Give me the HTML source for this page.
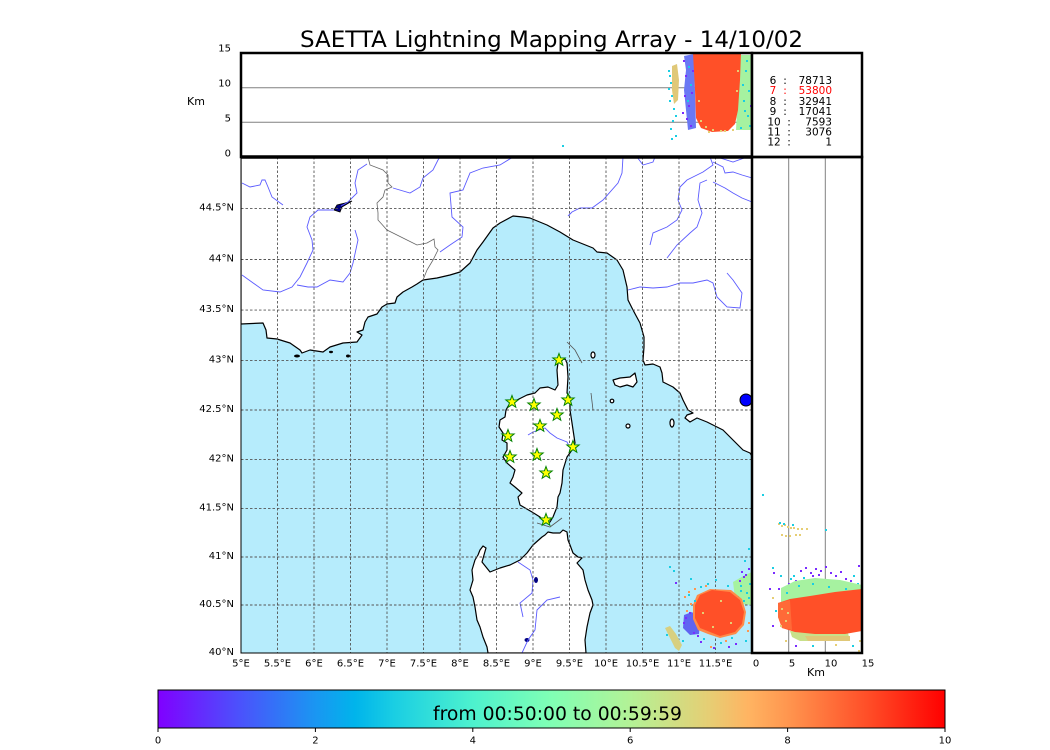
<!DOCTYPE html>
<html><head><meta charset="utf-8"><style>
html,body{margin:0;padding:0;background:#fff;}
svg{display:block;}
text{font-family:"DejaVu Sans","Liberation Sans",sans-serif;fill:#000;}
</style></head><body>
<svg width="1050" height="750" viewBox="0 0 1050 750" xmlns="http://www.w3.org/2000/svg">
<defs>
<clipPath id="cm"><rect x="241" y="157" width="511" height="496"/></clipPath>
<clipPath id="ct"><rect x="241" y="53" width="511" height="104"/></clipPath>
<clipPath id="cr"><rect x="752" y="157" width="110" height="496"/></clipPath>
<path id="star" d="M0,-6.5 L1.59,-2.18 L6.18,-2.01 L2.57,0.83 L3.82,5.26 L0,2.7 L-3.82,5.26 L-2.57,0.83 L-6.18,-2.01 L-1.59,-2.18 Z" fill="#ffff00" stroke="#008000" stroke-width="1"/>
<linearGradient id="rb" x1="0" x2="1" y1="0" y2="0">
<stop offset="0" stop-color="#8000ff"/><stop offset="0.1" stop-color="#4d4ffc"/><stop offset="0.2" stop-color="#1a96f2"/><stop offset="0.25" stop-color="#00b4eb"/><stop offset="0.3" stop-color="#1acee3"/><stop offset="0.4" stop-color="#4df2ce"/><stop offset="0.5" stop-color="#80ffb4"/><stop offset="0.6" stop-color="#b3f296"/><stop offset="0.7" stop-color="#e6ce74"/><stop offset="0.75" stop-color="#ffb462"/><stop offset="0.8" stop-color="#ff964f"/><stop offset="0.9" stop-color="#ff4f28"/><stop offset="1" stop-color="#ff0000"/>
</linearGradient>
</defs>

<!-- Title -->
<text x="551.5" y="47" font-size="22.5" text-anchor="middle" textLength="503" lengthAdjust="spacingAndGlyphs">SAETTA Lightning Mapping Array - 14/10/02</text>

<!-- ===== MAP ===== -->
<g clip-path="url(#cm)">
<rect x="241" y="157" width="511" height="496" fill="#b6ecfc"/>
<g fill="#fff" stroke="#000" stroke-width="1.2" stroke-linejoin="round">
<path d="M241,157 L752,157 L752,456 L750,453 L743,450 L733,440 L723,430 L707,422 L697,418 L690,422 L685,418 L687,415 L693,413 L688,410 L683,400 L680,393 L673,387 L663,382 L662,373 L660,367 L653,364 L645,365 L643,360 L644,347 L644,337 L640,323 L633,310 L628,300 L627,287 L623,270 L617,260 L607,253 L597,252 L593,248 L573,240 L560,232 L547,225 L530,218 L523,217 L513,216 L500,223 L493,228 L483,242 L477,250 L470,263 L460,272 L450,275 L437,278 L423,280 L417,284 L412,287 L403,292 L397,297 L395,303 L387,304 L382,307 L377,314 L368,317 L365,322 L363,330 L357,332 L362,335 L357,342 L343,343 L330,347 L323,352 L310,350 L302,353 L300,350 L290,343 L277,339 L267,338 L266,330 L263,323 L241,324 Z"/>
<path d="M559,360 L565,359 L567,363 L568,377 L567,393 L570,397 L570,410 L572,423 L575,443 L572,450 L567,457 L563,470 L562,483 L560,493 L558,497 L557,507 L553,517 L550,522 L545,523 L540,517 L532,512 L520,505 L518,497 L522,493 L515,487 L510,483 L513,477 L515,470 L507,463 L503,457 L507,450 L507,443 L502,440 L503,433 L499,427 L500,420 L505,417 L506,410 L510,403 L517,400 L527,395 L535,393 L540,388 L548,387 L555,390 L558,385 L557,370 L558,363 Z"/>
<path d="M545,535 L548,532 L553,533 L560,533 L563,530 L567,532 L568,540 L570,545 L573,553 L578,557 L582,558 L577,563 L583,570 L585,580 L588,590 L592,600 L593,605 L590,613 L587,627 L585,640 L586,653 L488,653 L487,647 L483,637 L480,627 L477,620 L475,607 L473,597 L470,590 L473,580 L472,570 L475,560 L478,555 L480,550 L483,546 L486,548 L484,555 L482,562 L490,572 L500,568 L510,565 L520,560 L527,553 L533,545 L542,537 Z"/>
<path d="M613,380 L620,378 L630,377 L635,373 L637,382 L633,387 L627,385 L620,387 L615,385 Z"/>
<ellipse cx="593" cy="355" rx="2" ry="3"/>
<ellipse cx="628" cy="426" rx="2" ry="2"/>
<ellipse cx="612" cy="401" rx="1.8" ry="1.8"/>
<ellipse cx="672" cy="423" rx="2" ry="4"/>
</g>
<!-- lakes -->
<path d="M334,210 L337,205 L345,203 L352,201 L342,207 L340,212 Z" fill="#000080" stroke="#000" stroke-width="0.8"/>
<circle cx="746" cy="400" r="6" fill="#0000ff" stroke="#000" stroke-width="1"/>
<ellipse cx="536" cy="580" rx="2" ry="3" fill="#000080"/>
<ellipse cx="527" cy="640" rx="2.5" ry="2" fill="#000080"/>
<ellipse cx="297" cy="356" rx="3" ry="1.5" fill="#000"/>
<ellipse cx="348" cy="356" rx="2" ry="1.5" fill="#000"/>
<ellipse cx="331" cy="352" rx="2" ry="1.2" fill="#000"/>
<!-- rivers -->
<g fill="none" stroke="#5b5bff" stroke-width="0.9">
<polyline points="242,183 250,187 260,185 262,180 265,180 268,187 272,197 283,205"/>
<polyline points="367,164 358,170 355,183 357,193 348,202 341,206"/>
<polyline points="334,210 318,210 310,217 307,227 312,240 313,250 307,263 300,277 292,287 280,292 263,290 242,275"/>
<polyline points="297,285 308,287 317,287 330,280 343,282 350,273 353,263 358,240 355,230"/>
<polyline points="393,188 410,193 420,187 423,178 433,170 438,160 440,157"/>
<polyline points="513,157 500,165 483,168 470,173 463,190 450,193 452,217 463,227 462,237 450,245 440,252"/>
<polyline points="623,157 622,173 618,183 603,200 592,208 580,208 572,212 568,216"/>
<polyline points="637,157 643,165 653,162 655,157"/>
<polyline points="710,157 713,165 703,172 687,180 680,187 678,200 682,210 677,220 667,227 653,233 650,245"/>
<polyline points="707,180 700,183 698,200 702,213 697,227 690,233 677,245 667,258"/>
<polyline points="713,162 723,167 725,173 733,172 742,175 752,178"/>
<polyline points="713,182 725,188 733,193 742,198 752,202"/>
<polyline points="717,157 733,162 747,157"/>
<polyline points="628,290 640,287 653,288 667,287 680,283 693,283 707,280 713,283 717,297 727,307 740,308 742,293 733,280 727,273"/>
<polyline points="528,435 533,432 545,428 550,433 557,438 567,442 570,448"/>
<polyline points="518,562 530,570 533,580 532,593 520,603 523,617"/>
<polyline points="560,597 547,600 537,610 535,630 528,640 522,653"/>
</g>
<!-- borders -->
<polyline fill="none" stroke="#666" stroke-width="0.8" points="368,157 370,165 383,170 388,175 388,183 392,187 385,190 383,197 377,203 378,213 378,220 387,230 393,233 407,240 417,245 427,243 434,239 435,247 438,250 433,260 427,270 423,280"/>
<!-- fault lines -->
<g fill="none" stroke="#555" stroke-width="0.8">
<polyline points="567,342 575,350 582,363"/>
<polyline points="591,393 593,410"/>
<polyline points="537,523 550,527 562,518"/>
</g>
<!-- grid -->
<g stroke="#555" stroke-width="0.9" stroke-dasharray="2.5,2">
<line x1="277.5" y1="157" x2="277.5" y2="653"/><line x1="314" y1="157" x2="314" y2="653"/><line x1="350.5" y1="157" x2="350.5" y2="653"/><line x1="387" y1="157" x2="387" y2="653"/><line x1="423.5" y1="157" x2="423.5" y2="653"/><line x1="460" y1="157" x2="460" y2="653"/><line x1="496.5" y1="157" x2="496.5" y2="653"/><line x1="533" y1="157" x2="533" y2="653"/><line x1="569.5" y1="157" x2="569.5" y2="653"/><line x1="606" y1="157" x2="606" y2="653"/><line x1="642.5" y1="157" x2="642.5" y2="653"/><line x1="679" y1="157" x2="679" y2="653"/><line x1="715.5" y1="157" x2="715.5" y2="653"/>
<line x1="241" y1="208.6" x2="752" y2="208.6"/><line x1="241" y1="259.5" x2="752" y2="259.5"/><line x1="241" y1="310.1" x2="752" y2="310.1"/><line x1="241" y1="360.4" x2="752" y2="360.4"/><line x1="241" y1="410" x2="752" y2="410"/><line x1="241" y1="459.4" x2="752" y2="459.4"/><line x1="241" y1="508.4" x2="752" y2="508.4"/><line x1="241" y1="557" x2="752" y2="557"/><line x1="241" y1="605" x2="752" y2="605"/>
</g>
<!-- stars -->
<use href="#star" x="559" y="360"/><use href="#star" x="512" y="402"/><use href="#star" x="534" y="405"/><use href="#star" x="568" y="400"/><use href="#star" x="557" y="415"/><use href="#star" x="540" y="426"/><use href="#star" x="508" y="436"/><use href="#star" x="573" y="447"/><use href="#star" x="510" y="457"/><use href="#star" x="537" y="455"/><use href="#star" x="546" y="473"/><use href="#star" x="546" y="520"/>
<!-- lightning in map -->
<path d="M733,582 L745,575 L752,572 L752,605 L742,604 L735,598 Z" fill="#a6f2a0"/>
<g fill="#1acee3"><rect x="740" y="585" width="2" height="2"/><rect x="746" y="592" width="2" height="2"/><rect x="737" y="596" width="2" height="2"/><rect x="749" y="583" width="2" height="2"/><rect x="743" y="600" width="2" height="2"/></g>
<path d="M684,615 L692,612 L700,620 L699,634 L690,635 L683,628 Z" fill="#6064f2"/>
<path d="M697,595 L710,589 L731,590 L742,599 L746,612 L744,625 L736,634 L720,638 L708,634 L698,630 L693,619 L693,605 Z" fill="#ff8a48"/>
<path d="M700,595 L712,590 L730,592 L740,600 L744,612 L742,624 L735,632 L720,636 L710,632 L700,628 L695,618 L695,605 Z" fill="#ff5028"/>
<path d="M665,628 L670,626 L676,634 L682,645 L679,651 L675,648 Z" fill="#d8d080"/>
<g fill="#1acee3"><rect x="669" y="566" width="2" height="2"/><rect x="673" y="570" width="2" height="2"/><rect x="690" y="578" width="2" height="2"/><rect x="700" y="586" width="2" height="2"/><rect x="688" y="594" width="2" height="2"/><rect x="707" y="583" width="2" height="2"/><rect x="715" y="579" width="2" height="2"/><rect x="727" y="585" width="2" height="2"/><rect x="682" y="640" width="2" height="2"/><rect x="720" y="642" width="2" height="2"/><rect x="745" y="640" width="2" height="2"/><rect x="740" y="590" width="2" height="2"/><rect x="748" y="597" width="2" height="2"/><rect x="666" y="634" width="2" height="2"/><rect x="744" y="560" width="2" height="2"/><rect x="748" y="548" width="2" height="2"/><rect x="703" y="638" width="2" height="2"/><rect x="731" y="637" width="2" height="2"/><rect x="694" y="600" width="2" height="2"/></g>
<g fill="#7a2cff"><rect x="741" y="571" width="2" height="2"/><rect x="745" y="574" width="2" height="2"/><rect x="748" y="568" width="2" height="2"/><rect x="739" y="580" width="2" height="2"/><rect x="743" y="576" width="2" height="2"/><rect x="685" y="617" width="2" height="2"/><rect x="683" y="622" width="2" height="2"/><rect x="693" y="632" width="2" height="2"/><rect x="697" y="635" width="2" height="2"/><rect x="675" y="582" width="2" height="2"/><rect x="713" y="647" width="2" height="2"/><rect x="728" y="646" width="2" height="2"/><rect x="700" y="641" width="2" height="2"/><rect x="735" y="643" width="2" height="2"/><rect x="689" y="612" width="2" height="2"/></g>
<g fill="#ff964f"><rect x="684" y="596" width="2" height="2"/><rect x="688" y="591" width="2" height="2"/><rect x="694" y="588" width="2" height="2"/><rect x="686" y="610" width="2" height="2"/><rect x="710" y="646" width="2" height="2"/><rect x="748" y="622" width="2" height="2"/><rect x="690" y="603" width="2" height="2"/><rect x="705" y="585" width="2" height="2"/><rect x="747" y="630" width="2" height="2"/><rect x="725" y="640" width="2" height="2"/></g>
<g fill="#e6ce74"><rect x="702" y="612" width="2" height="2"/><rect x="712" y="626" width="2" height="2"/><rect x="730" y="622" width="2" height="2"/><rect x="720" y="600" width="2" height="2"/></g>
</g>
<rect x="241" y="157" width="511" height="496" fill="none" stroke="#000" stroke-width="1"/>

<!-- ===== TOP PANEL ===== -->
<g clip-path="url(#ct)">
<line x1="241" y1="87.7" x2="752" y2="87.7" stroke="#808080" stroke-width="1"/>
<line x1="241" y1="122.3" x2="752" y2="122.3" stroke="#808080" stroke-width="1"/>
<path d="M672,66 L677,64 L679,80 L678,100 L674,104 L672,90 Z" fill="#e0c878"/>
<path d="M684,56 L694,54 L696,128 L688,130 L686,110 L684,90 L686,70 Z" fill="#6a78f4"/>
<path d="M734,55 L751,55 L751,130 L736,130 L737,110 L739,80 Z" fill="#a6f2a0"/>
<path d="M693,53 L741,53 L740,80 L738,110 L735,124 L728,131 L712,132 L701,128 L696,118 L695,90 Z" fill="#ff5028"/>
<g fill="#1acee3"><rect x="668" y="70" width="2" height="2"/><rect x="669" y="75" width="2" height="2"/><rect x="670" y="82" width="2" height="2"/><rect x="668" y="88" width="2" height="2"/><rect x="671" y="95" width="2" height="2"/><rect x="669" y="100" width="2" height="2"/><rect x="673" y="108" width="2" height="2"/><rect x="675" y="115" width="2" height="2"/><rect x="672" y="120" width="2" height="2"/><rect x="670" y="128" width="2" height="2"/><rect x="675" y="135" width="2" height="2"/><rect x="671" y="138" width="2" height="2"/><rect x="745" y="70" width="2" height="2"/><rect x="748" y="90" width="2" height="2"/><rect x="743" y="100" width="2" height="2"/><rect x="747" y="115" width="2" height="2"/><rect x="749" y="125" width="2" height="2"/><rect x="740" y="127" width="2" height="2"/><rect x="746" y="60" width="2" height="2"/><rect x="562" y="145" width="2" height="2"/><rect x="688" y="66" width="2" height="2"/><rect x="690" y="84" width="2" height="2"/><rect x="687" y="100" width="2" height="2"/><rect x="742" y="84" width="2" height="2"/><rect x="744" y="110" width="2" height="2"/></g>
<g fill="#7a2cff"><rect x="683" y="60" width="2" height="2"/><rect x="685" y="75" width="2" height="2"/><rect x="684" y="95" width="2" height="2"/><rect x="688" y="105" width="2" height="2"/><rect x="686" y="118" width="2" height="2"/><rect x="690" y="125" width="2" height="2"/><rect x="682" y="112" width="2" height="2"/><rect x="750" y="105" width="2" height="2"/><rect x="692" y="70" width="2" height="2"/><rect x="691" y="92" width="2" height="2"/></g>
<g fill="#e6ce74"><rect x="700" y="120" width="2" height="2"/><rect x="705" y="126" width="2" height="2"/><rect x="712" y="129" width="2" height="2"/><rect x="720" y="130" width="2" height="2"/><rect x="698" y="100" width="2" height="2"/><rect x="708" y="131" width="2" height="2"/><rect x="724" y="130" width="2" height="2"/><rect x="732" y="129" width="2" height="2"/><rect x="736" y="90" width="2" height="2"/><rect x="737" y="70" width="2" height="2"/></g>
</g>
<rect x="241" y="53" width="511" height="104" fill="none" stroke="#000" stroke-width="2.5"/>

<!-- legend box -->
<rect x="752" y="53" width="110" height="104" fill="#fff" stroke="#000" stroke-width="2.5"/>
<g font-size="10.5">
<text x="773" y="84" text-anchor="middle">6</text><text x="785" y="84" text-anchor="middle">:</text><text x="832" y="84" text-anchor="end">78713</text>
<text x="773" y="94" text-anchor="middle" style="fill:#ff0000">7</text><text x="785" y="94" text-anchor="middle" style="fill:#ff0000">:</text><text x="832" y="94" text-anchor="end" style="fill:#ff0000">53800</text>
<text x="773" y="105" text-anchor="middle">8</text><text x="785" y="105" text-anchor="middle">:</text><text x="832" y="105" text-anchor="end">32941</text>
<text x="773" y="115" text-anchor="middle">9</text><text x="785" y="115" text-anchor="middle">:</text><text x="832" y="115" text-anchor="end">17041</text>
<text x="774" y="125.5" text-anchor="middle">10</text><text x="789" y="125.5" text-anchor="middle">:</text><text x="832" y="125.5" text-anchor="end">7593</text>
<text x="774" y="135.5" text-anchor="middle">11</text><text x="789" y="135.5" text-anchor="middle">:</text><text x="832" y="135.5" text-anchor="end">3076</text>
<text x="774" y="145.5" text-anchor="middle">12</text><text x="789" y="145.5" text-anchor="middle">:</text><text x="832" y="145.5" text-anchor="end">1</text>
</g>

<!-- ===== RIGHT PANEL ===== -->
<g clip-path="url(#cr)">
<line x1="788.7" y1="157" x2="788.7" y2="653" stroke="#808080" stroke-width="1"/>
<line x1="825.3" y1="157" x2="825.3" y2="653" stroke="#808080" stroke-width="1"/>
<g fill="#e6ce74"><rect x="778" y="523" width="2" height="2"/><rect x="781" y="525" width="2" height="2"/><rect x="784" y="524" width="2" height="2"/><rect x="787" y="526" width="2" height="2"/><rect x="790" y="527" width="2" height="2"/><rect x="793" y="527" width="2" height="2"/><rect x="797" y="528" width="2" height="2"/><rect x="801" y="528" width="2" height="2"/><rect x="806" y="528" width="2" height="2"/><rect x="781" y="534" width="2" height="2"/><rect x="785" y="535" width="2" height="2"/><rect x="789" y="535" width="2" height="2"/><rect x="795" y="534" width="2" height="2"/><rect x="799" y="534" width="2" height="2"/></g>
<g fill="#1acee3"><rect x="779" y="522" width="2" height="2"/><rect x="783" y="523" width="2" height="2"/><rect x="792" y="524" width="2" height="2"/><rect x="825" y="529" width="2" height="2"/><rect x="762" y="494" width="2" height="2"/><rect x="772" y="567" width="2" height="2"/><rect x="780" y="575" width="2" height="2"/><rect x="793" y="575" width="2" height="2"/><rect x="803" y="577" width="2" height="2"/><rect x="853" y="575" width="2" height="2"/><rect x="857" y="583" width="2" height="2"/><rect x="790" y="578" width="2" height="2"/><rect x="775" y="610" width="2" height="2"/><rect x="812" y="645" width="2" height="2"/><rect x="852" y="645" width="2" height="2"/></g>
<g fill="#7a2cff"><rect x="800" y="570" width="2" height="2"/><rect x="805" y="567" width="2" height="2"/><rect x="810" y="572" width="2" height="2"/><rect x="815" y="568" width="2" height="2"/><rect x="820" y="570" width="2" height="2"/><rect x="825" y="566" width="2" height="2"/><rect x="830" y="572" width="2" height="2"/><rect x="835" y="575" width="2" height="2"/><rect x="840" y="571" width="2" height="2"/><rect x="845" y="578" width="2" height="2"/><rect x="812" y="575" width="2" height="2"/><rect x="818" y="574" width="2" height="2"/><rect x="858" y="565" width="2" height="2"/><rect x="850" y="580" width="2" height="2"/><rect x="795" y="580" width="2" height="2"/><rect x="788" y="583" width="2" height="2"/><rect x="773" y="572" width="2" height="2"/><rect x="769" y="588" width="2" height="2"/><rect x="778" y="588" width="2" height="2"/><rect x="772" y="625" width="2" height="2"/><rect x="795" y="645" width="2" height="2"/></g>
<path d="M781,588 L795,581 L815,578 L840,580 L862,585 L862,600 L781,603 Z" fill="#a6f2a0"/>
<g fill="#1acee3"><rect x="798" y="585" width="2" height="2"/><rect x="812" y="583" width="2" height="2"/><rect x="828" y="586" width="2" height="2"/><rect x="845" y="588" width="2" height="2"/><rect x="786" y="592" width="2" height="2"/></g>
<path d="M790,631 L848,633 L850,641 L800,641 L792,637 Z" fill="#c8e08a"/>
<path d="M805,636 L850,636 L850,641 L808,641 Z" fill="#e0c878"/>
<path d="M778,603 L790,599 L810,596 L835,592 L862,589 L862,631 L845,634 L815,634 L795,632 L782,628 L778,617 Z" fill="#ff5028"/>
<path d="M778,603 L790,600 L792,630 L782,628 L778,617 Z" fill="#ff6a38"/>
<g fill="#e6ce74"><rect x="772" y="597" width="2" height="2"/><rect x="785" y="640" width="2" height="2"/><rect x="835" y="644" width="2" height="2"/><rect x="859" y="640" width="2" height="2"/><rect x="858" y="650" width="2" height="2"/><rect x="781" y="608" width="2" height="2"/><rect x="785" y="620" width="2" height="2"/><rect x="780" y="625" width="2" height="2"/><rect x="787" y="612" width="2" height="2"/></g>
</g>
<rect x="752" y="157" width="110" height="496" fill="none" stroke="#000" stroke-width="2.5"/>
<line x1="241" y1="157" x2="752" y2="157" stroke="#000" stroke-width="3.5"/>

<!-- axis labels -->
<g font-size="10">
<text x="231" y="51.6" text-anchor="end">15</text>
<text x="231" y="86.6" text-anchor="end">10</text>
<text x="231" y="121.6" text-anchor="end">5</text>
<text x="231" y="156.6" text-anchor="end">0</text>
</g>
<text x="196" y="105" font-size="11" text-anchor="middle">Km</text>

<g font-size="10" text-anchor="end">
<text x="234" y="210.7">44.5°N</text>
<text x="234" y="261.6">44°N</text>
<text x="234" y="312.2">43.5°N</text>
<text x="234" y="362.5">43°N</text>
<text x="234" y="412.1">42.5°N</text>
<text x="234" y="461.5">42°N</text>
<text x="234" y="510.5">41.5°N</text>
<text x="234" y="559.1">41°N</text>
<text x="234" y="607.1">40.5°N</text>
<text x="234" y="655">40°N</text>
</g>
<g font-size="10" text-anchor="middle">
<text x="241" y="666.6">5°E</text><text x="277.5" y="666.6">5.5°E</text><text x="314" y="666.6">6°E</text><text x="350.5" y="666.6">6.5°E</text><text x="387" y="666.6">7°E</text><text x="423.5" y="666.6">7.5°E</text><text x="460" y="666.6">8°E</text><text x="496.5" y="666.6">8.5°E</text><text x="533" y="666.6">9°E</text><text x="569.5" y="666.6">9.5°E</text><text x="606" y="666.6">10°E</text><text x="642.5" y="666.6">10.5°E</text><text x="679" y="666.6">11°E</text><text x="715.5" y="666.6">11.5°E</text>
<text x="756" y="666.6">0</text><text x="792" y="666.6">5</text><text x="831" y="666.6">10</text><text x="868" y="666.6">15</text>
</g>
<text x="816" y="676" font-size="11" text-anchor="middle">Km</text>

<!-- colorbar -->
<rect x="158" y="690" width="787" height="38" fill="url(#rb)" stroke="#000" stroke-width="1"/>
<text x="557.5" y="720" font-size="18.7" text-anchor="middle" textLength="249" lengthAdjust="spacingAndGlyphs">from 00:50:00 to 00:59:59</text>
<g stroke="#000" stroke-width="1">
<line x1="158" y1="728" x2="158" y2="732"/><line x1="315.4" y1="728" x2="315.4" y2="732"/><line x1="472.8" y1="728" x2="472.8" y2="732"/><line x1="630.2" y1="728" x2="630.2" y2="732"/><line x1="787.6" y1="728" x2="787.6" y2="732"/><line x1="945" y1="728" x2="945" y2="732"/>
</g>
<g font-size="10" text-anchor="middle">
<text x="158" y="743.5">0</text><text x="315.4" y="743.5">2</text><text x="472.8" y="743.5">4</text><text x="630.2" y="743.5">6</text><text x="787.6" y="743.5">8</text><text x="945" y="743.5">10</text>
</g>
</svg>
</body></html>
